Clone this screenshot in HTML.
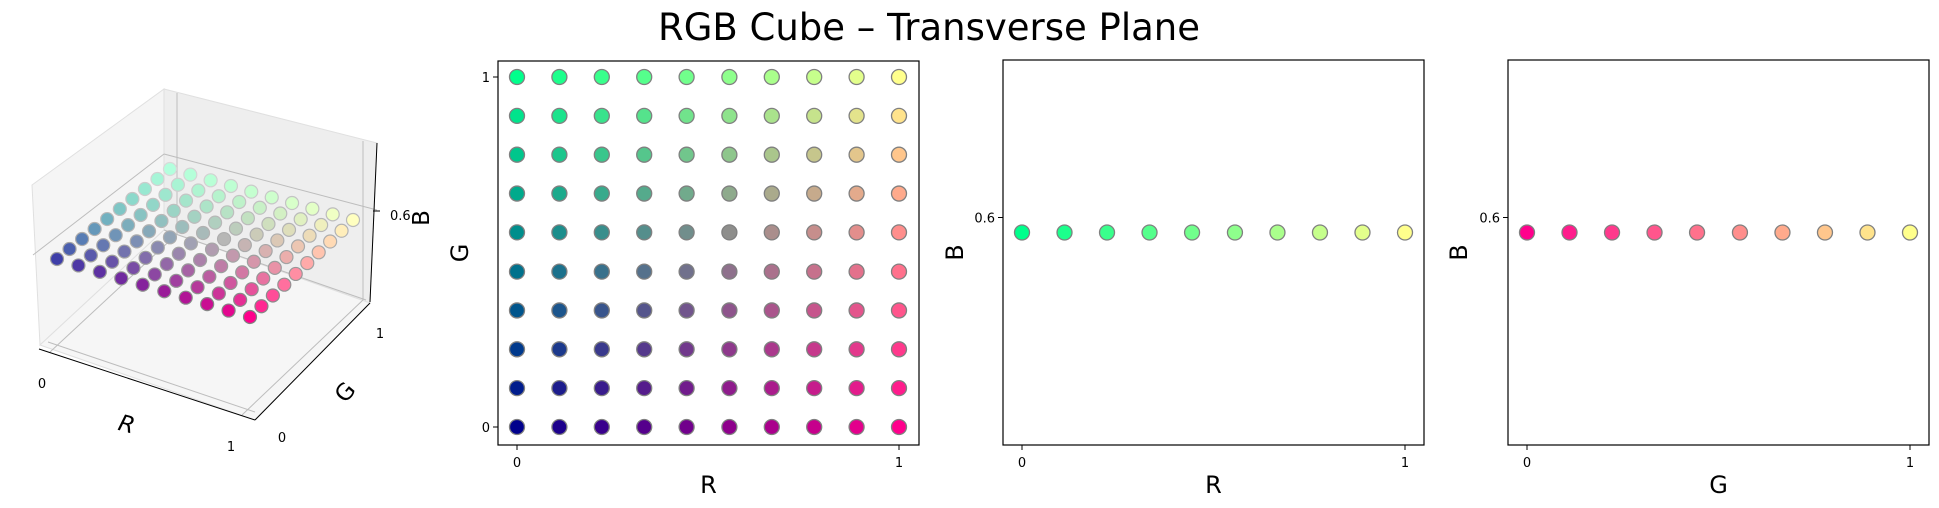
<!DOCTYPE html>
<html><head><meta charset="utf-8"><style>
html,body{margin:0;padding:0;background:#fff;}
svg{display:block;font-family:"DejaVu Sans","Liberation Sans",sans-serif;}
</style></head><body>
<svg id="fig" width="1939" height="508" viewBox="0 0 1939 508">
<text x="929" y="40" font-size="37" text-anchor="middle">RGB Cube – Transverse Plane</text>
<g id="p3d">
  <polygon points="32,185 164,89 164,230 40,345" fill="#f5f5f5" stroke="#e0e0e0"/>
  <polygon points="164,89 377,143 370,303 164,230" fill="#eeeeee" stroke="#e0e0e0"/>
  <polygon points="40,345 164,230 370,303 255,420" fill="#f6f6f6" stroke="#e0e0e0"/>
  <g stroke="#bdbdbd" stroke-width="1" fill="none">
    <line x1="33" y1="255" x2="164" y2="154"/>
    <line x1="164" y1="154" x2="377" y2="210"/>
    <line x1="177" y1="93" x2="177" y2="234"/>
    <line x1="363" y1="141" x2="363" y2="300"/>
    <line x1="50" y1="352" x2="177" y2="234"/>
    <line x1="242" y1="415" x2="363" y2="300"/>
    <line x1="48" y1="342" x2="255" y2="412"/>
    <line x1="164" y1="230" x2="366" y2="300"/>
  </g>
  <g stroke="#000" stroke-width="1" fill="none">
    <line x1="39" y1="349" x2="255" y2="420"/>
    <line x1="255" y1="420" x2="370" y2="303"/>
    <line x1="377" y1="143" x2="370" y2="302"/>
    <line x1="373" y1="211" x2="380" y2="211"/>
  </g>
  <g id="pts3d"></g>
  <text x="42" y="388" font-size="13" text-anchor="middle">0</text>
  <text x="231" y="451" font-size="13" text-anchor="middle">1</text>
  <text x="127" y="432" font-size="23" text-anchor="middle" font-style="italic" transform="rotate(15 127 423)">R</text>
  <text x="282" y="442" font-size="13" text-anchor="middle">0</text>
  <text x="380" y="338" font-size="13" text-anchor="middle">1</text>
  <text x="345" y="400" font-size="23" text-anchor="middle" transform="rotate(-50 345 392)">G</text>
  <text x="390" y="220" font-size="13">0.6</text>
  <text x="0" y="0" font-size="23" text-anchor="middle" transform="translate(429 218) rotate(-90)">B</text>
</g>
<g id="p2"></g>
<g id="p3"></g>
<g id="p4"></g>
</svg>
<script>
const rVals = [0, 0.111, 0.222, 0.333, 0.444, 0.556, 0.667, 0.778, 0.889, 1];
const gVals = [0, 0.111, 0.222, 0.333, 0.444, 0.556, 0.667, 0.778, 0.889, 1];
const bPlane = 0.55;
const xTickLabels = ["0", "1"];
const xTickValues = [0, 1];
const bTickValues = [0.6];
const bTickLabels = ["0.6"];

const NS = "http://www.w3.org/2000/svg";
function mk(tag, attrs, parent){const e=document.createElementNS(NS,tag);for(const k in attrs)e.setAttribute(k,attrs[k]);parent.appendChild(e);return e;}
function col(r,g,b,a){const w=v=>Math.round(255*(v*a+(1-a)));return `rgb(${w(r)},${w(g)},${w(b)})`;}

const P00=[57,259],P10=[250,317],P01=[170,169],P11=[353,220];
function proj(r,g){return [0,1].map(i=>P00[i]+r*(P10[i]-P00[i])+g*(P01[i]-P00[i])+r*g*(P11[i]-P10[i]-P01[i]+P00[i]));}
const g3=document.getElementById('pts3d');
const list=[];
rVals.forEach(r=>gVals.forEach(g=>list.push({r,g,d:0.35*(1-r)+0.65*g})));
list.sort((a,b)=>b.d-a.d);
list.forEach(p=>{const [x,y]=proj(p.r,p.g);const a=1-0.7*p.d;
  const c=mk('circle',{cx:x,cy:y,r:6.5,fill:col(p.r,p.g,bPlane,a),stroke:col(0.5,0.5,0.5,a),'stroke-width':1.2},g3);
  
  
});

function panel(gid,box,xr,yr,xlab,ylab,pts,yTicks,yTickLabs,ylOff){
  const g=document.getElementById(gid);
  const [x0,y0,x1,y1]=box;
  const sx=v=>xr[0]+v*(xr[1]-xr[0]);
  const sy=v=>yr.a+(v-yr.v0)*yr.k;
  const fr=mk('rect',{x:x0,y:y0,width:x1-x0,height:y1-y0,fill:'none',stroke:'#000','stroke-width':1.2},g);
  
  
  xTickValues.forEach((v,i)=>{const x=sx(v);
    mk('line',{x1:x,y1:y1,x2:x,y2:y1+5,stroke:'#000'},g);
    const t=mk('text',{x:x,y:y1+22,'font-size':13,'text-anchor':'middle'},g);t.textContent=xTickLabels[i];
    
    
  });
  yTicks.forEach((v,i)=>{const y=sy(v);
    mk('line',{x1:x0-5,y1:y,x2:x0,y2:y,stroke:'#000'},g);
    const t=mk('text',{x:x0-8,y:y+5,'font-size':13,'text-anchor':'end'},g);t.textContent=yTickLabs[i];
    
    
  });
  const xl=mk('text',{x:(x0+x1)/2,y:y1+48,'font-size':24,'text-anchor':'middle'},g);xl.textContent=xlab;
  
  
  const yc=(y0+y1)/2;
  const yl=mk('text',{x:0,y:0,'font-size':24,'text-anchor':'middle',transform:`translate(${x0-ylOff} ${yc}) rotate(-90)`},g);yl.textContent=ylab;
  
  
  pts.forEach(p=>{
    const c=mk('circle',{cx:sx(p.x),cy:sy(p.y),r:7.5,fill:col(p.c[0],p.c[1],p.c[2],1),stroke:'#808080','stroke-width':1.3},g);
    
    
  });
}
const pts2=[];rVals.forEach(r=>gVals.forEach(gv=>pts2.push({x:r,y:gv,c:[r,gv,bPlane]})));
panel('p2',[498,61,919,445],[517,899],{a:427,v0:0,k:-350},'R','G',pts2,[0,1],["0","1"],30);
const pts3=rVals.map(r=>({x:r,y:bPlane,c:[r,1,bPlane]}));
panel('p3',[1003,60,1424,445],[1022,1405],{a:232.5,v0:bPlane,k:-300},'R','B',pts3,bTickValues,bTickLabels,40);
const pts4=gVals.map(gv=>({x:gv,y:bPlane,c:[1,gv,bPlane]}));
panel('p4',[1508,60,1929,445],[1527,1910],{a:232.5,v0:bPlane,k:-300},'G','B',pts4,bTickValues,bTickLabels,41);
</script>
</body></html>
